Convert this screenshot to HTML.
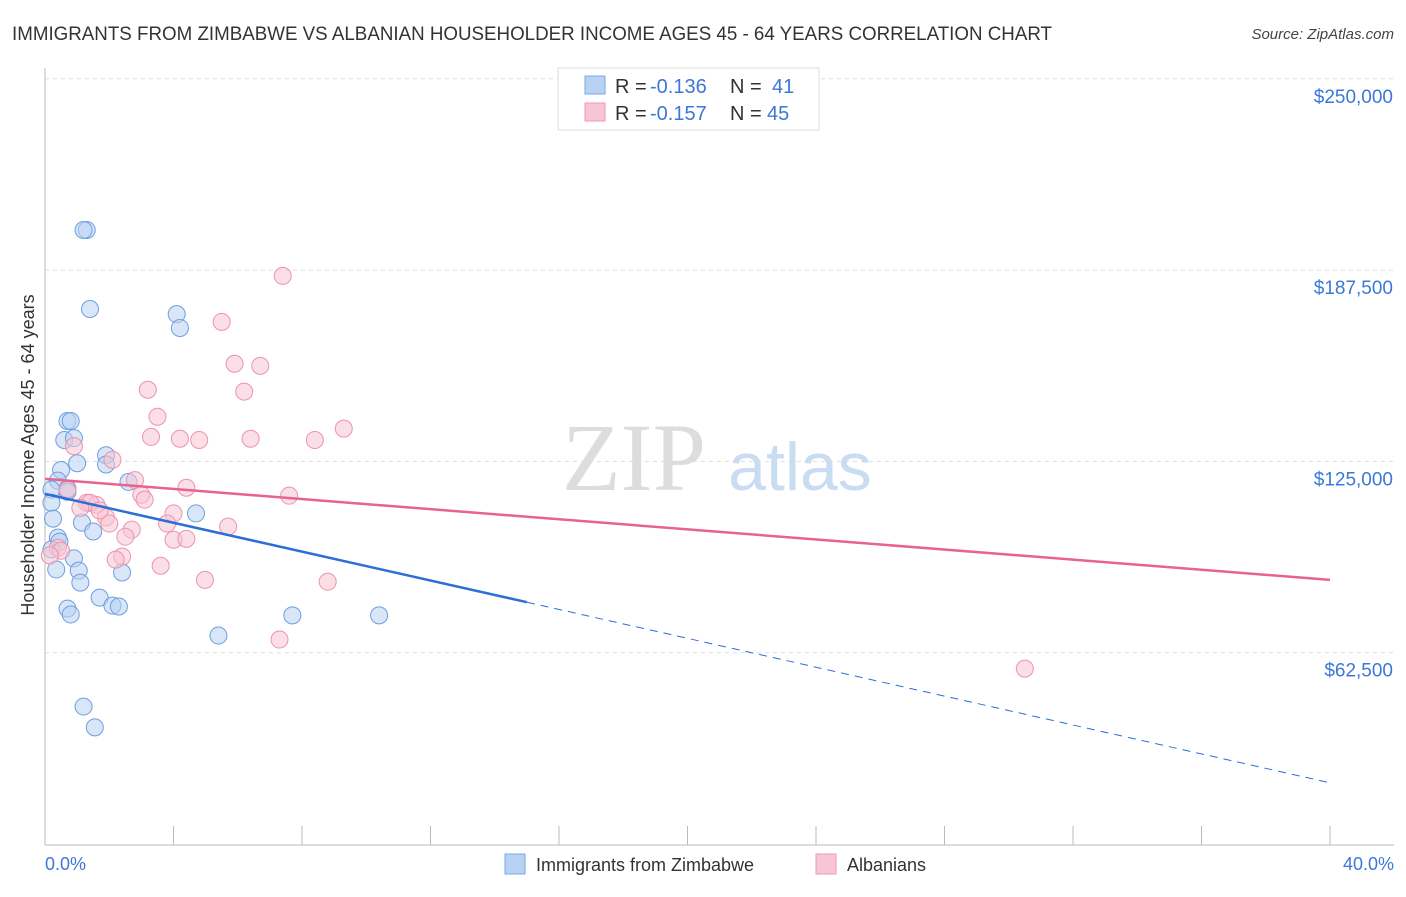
<!DOCTYPE html>
<html><head><meta charset="utf-8"><style>
body{margin:0;background:#fff;width:1406px;height:892px;overflow:hidden;font-family:"Liberation Sans",sans-serif}
</style></head><body>
<svg id="chart" width="1406" height="892" xmlns="http://www.w3.org/2000/svg">
<text x="12" y="40" font-size="19" fill="#333" textLength="1040" lengthAdjust="spacingAndGlyphs">IMMIGRANTS FROM ZIMBABWE VS ALBANIAN HOUSEHOLDER INCOME AGES 45 - 64 YEARS CORRELATION CHART</text>
<text x="1394" y="39" font-size="15" fill="#444" font-style="italic" text-anchor="end">Source: ZipAtlas.com</text>
<g id="grid"></g>
<text x="634" y="490" font-size="96" fill="#ddd" font-family="Liberation Serif,serif" text-anchor="middle">ZIP</text>
<text x="800" y="490" font-size="68" fill="#c9dcf2" text-anchor="middle">atlas</text>
<line x1="45" y1="68" x2="45" y2="845" stroke="#bbb"/>
<line x1="45" y1="845" x2="1394" y2="845" stroke="#bbb"/>
<text transform="translate(34,455) rotate(-90)" font-size="18" fill="#333" text-anchor="middle">Householder Income Ages 45 - 64 years</text>
<text x="45" y="870" font-size="18" fill="#3b78d8">0.0%</text>
<text x="1394" y="870" font-size="18" fill="#3b78d8" text-anchor="end">40.0%</text>
<g id="marks"></g>
<g>
<rect x="558" y="68" width="261" height="62" fill="#fff" stroke="#ddd"/>
<rect x="585" y="76" width="20" height="18" fill="#b8d2f3" stroke="#7aa8e6"/>
<text x="615" y="93" font-size="20" fill="#333">R =</text>
<text x="650" y="93" font-size="20" fill="#3b78d8">-0.136</text>
<text x="730" y="93" font-size="20" fill="#333">N =</text>
<text x="772" y="93" font-size="20" fill="#3b78d8">41</text>
<rect x="585" y="103" width="20" height="18" fill="#f8c5d4" stroke="#ee9ab4"/>
<text x="615" y="120" font-size="20" fill="#333">R =</text>
<text x="650" y="120" font-size="20" fill="#3b78d8">-0.157</text>
<text x="730" y="120" font-size="20" fill="#333">N =</text>
<text x="767" y="120" font-size="20" fill="#3b78d8">45</text>
</g>
<g>
<rect x="505" y="854" width="20" height="20" fill="#b8d2f3" stroke="#7aa8e6"/>
<text x="536" y="871" font-size="18" fill="#333">Immigrants from Zimbabwe</text>
<rect x="816" y="854" width="20" height="20" fill="#f8c5d4" stroke="#ee9ab4"/>
<text x="847" y="871" font-size="18" fill="#333">Albanians</text>
</g>
</svg>
<script>
const yTicks=[62500,125000,187500,250000];
const yTickLabels=["$62,500","$125,000","$187,500","$250,000"];
const xTicks=[0,4,8,12,16,20,24,28,32,36,40];
const blueX=[1.3,1.2,1.4,4.1,4.2,0.7,0.8,0.6,0.9,1.9,1.9,1.0,0.5,2.6,0.4,0.7,0.2,0.7,0.2,0.25,1.15,4.7,1.5,0.4,0.45,0.9,0.35,1.05,2.4,1.1,1.7,0.7,0.8,2.1,2.3,7.7,10.4,5.4,1.2,1.55,0.2];
const blueY=[200600,200600,174800,173100,168600,138200,138200,132000,132600,127000,124000,124400,122200,118300,118700,116100,115800,115100,111500,106300,105000,108000,102100,100100,98800,93300,89700,89300,88700,85400,80500,76900,75000,77900,77600,74700,74700,68100,44900,38100,96200];
const pinkX=[7.4,5.5,5.9,6.7,3.2,6.2,3.5,9.3,3.3,4.2,4.8,6.4,8.4,0.9,2.1,2.8,0.7,4.4,3.0,7.6,1.3,1.6,1.4,1.1,4.0,1.9,2.0,3.8,2.7,5.7,2.5,4.0,4.4,0.4,0.5,2.4,2.2,3.6,4.98,8.8,7.3,30.5,0.15,1.7,3.1];
const pinkY=[185600,170600,156900,156200,148400,147800,139600,135700,133000,132400,132000,132400,132000,130000,125500,118900,115700,116400,114100,113800,111500,110800,111500,109800,108000,106700,104700,104700,102700,103700,100400,99400,99700,96800,95800,93900,92900,90900,86300,85700,66800,57300,94300,109000,112500];
const blueTrend=[114400,19995];
const pinkTrend=[119300,86300];
const blueSolidEnd=15;
const X=v=>45+v/40*1285;
const Y=v=>844-v/62500*191.3;
const NS="http://www.w3.org/2000/svg";
const grid=document.getElementById('grid'),marks=document.getElementById('marks');
function mk(tag,attrs,parent){const e=document.createElementNS(NS,tag);for(const k in attrs)e.setAttribute(k,attrs[k]);parent.appendChild(e);return e;}
yTicks.forEach((t,i)=>{
 const l=mk('line',{x1:45,x2:1394,y1:Y(t),y2:Y(t),stroke:'#ddd','stroke-dasharray':'4,4'},grid);
 
 
 const tx=mk('text',{x:1393,y:Y(t)+24,'font-size':19,fill:'#3b78d8','text-anchor':'end'},grid);
 tx.textContent=yTickLabels[i];
 
 
});
xTicks.forEach(t=>{
 const l=mk('line',{x1:X(t),x2:X(t),y1:826,y2:845,stroke:'#bbb'},grid);
 
 
});
function pts(xs,ys,fill,stroke,name){
 xs.forEach((x,i)=>{
  const c=mk('circle',{cx:X(x),cy:Y(ys[i]),r:8.5,fill:fill,stroke:stroke,'stroke-width':1,'fill-opacity':0.55},marks);
  
  
 });
}
pts(blueX,blueY,'#b8d2f3','#6d9fe0','zimbabwe-point');
pts(pinkX,pinkY,'#f8c5d4','#ec93af','albanian-point');
const bAt=x=>blueTrend[0]+(blueTrend[1]-blueTrend[0])*x/40;
let l=mk('line',{x1:X(0),y1:Y(bAt(0)),x2:X(blueSolidEnd),y2:Y(bAt(blueSolidEnd)),stroke:'#2c6fd6','stroke-width':2.5},marks);


l=mk('line',{x1:X(blueSolidEnd),y1:Y(bAt(blueSolidEnd)),x2:X(40),y2:Y(bAt(40)),stroke:'#2c6fd6','stroke-width':1,'stroke-dasharray':'8,6'},marks);


l=mk('line',{x1:X(0),y1:Y(pinkTrend[0]),x2:X(40),y2:Y(pinkTrend[1]),stroke:'#e8638f','stroke-width':2.5},marks);


</script>
</body></html>
